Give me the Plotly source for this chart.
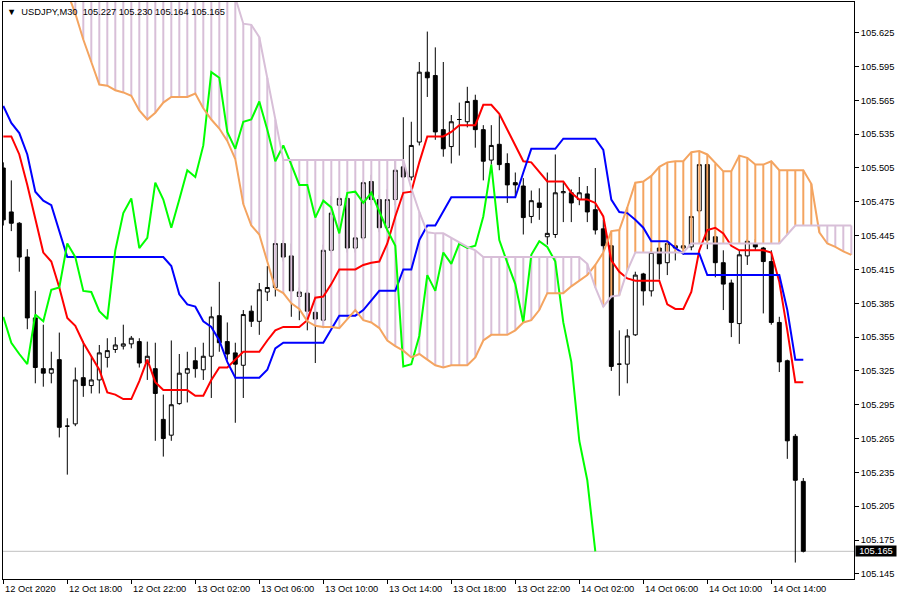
import plotly.graph_objects as go
import pandas as pd

symbol = "USDJPY,M30"
bar_times = pd.date_range("2020-10-12 14:00", periods=101, freq="30min")

opens = [105.505,105.466,105.456,105.426,105.372,105.327,105.323,105.335,105.276,105.278,
         105.319,105.312,105.317,105.337,105.344,105.347,105.349,105.351,105.332,105.327,
         105.282,105.268,105.296,105.323,105.334,105.326,105.338,105.374,105.351,105.341,
         105.330,105.378,105.369,105.395,105.399,105.438,105.427,105.391,105.394,105.377,
         105.370,105.432,105.472,105.478,105.434,105.443,105.493,105.477,105.452,105.477,
         105.506,105.497,105.528,105.590,105.587,105.539,105.524,105.548,105.546,105.565,
         105.539,105.512,105.526,105.509,105.492,105.489,105.462,105.474,105.444,105.446,
         105.483,105.483,105.477,105.482,105.468,105.451,105.436,105.331,105.331,105.357,
         105.411,105.396,105.434,105.421,105.436,105.434,105.435,105.467,105.508,105.444,
         105.421,105.403,105.367,105.427,105.438,105.434,105.422,105.368,105.334,105.267,
         105.227]
highs = [105.510,105.494,105.457,105.433,105.396,105.366,105.342,105.359,105.283,105.328,
         105.351,105.338,105.348,105.354,105.355,105.366,105.356,105.354,105.351,105.350,
         105.304,105.352,105.340,105.342,105.346,105.350,105.382,105.404,105.368,105.350,
         105.379,105.383,105.403,105.418,105.441,105.441,105.438,105.399,105.397,105.392,
         105.437,105.480,105.480,105.479,105.450,105.494,105.499,105.481,105.486,105.512,
         105.550,105.546,105.599,105.626,105.612,105.599,105.552,105.563,105.577,105.570,
         105.543,105.543,105.552,105.518,105.501,105.496,105.485,105.487,105.501,105.517,
         105.493,105.486,105.497,105.489,105.505,105.459,105.441,105.361,105.362,105.413,
         105.412,105.434,105.438,105.439,105.438,105.441,105.477,105.509,105.509,105.450,
         105.432,105.406,105.432,105.442,105.442,105.435,105.432,105.373,105.335,105.269,
         105.230]
lows = [105.454,105.449,105.413,105.362,105.314,105.311,105.314,105.266,105.233,105.276,
        105.302,105.305,105.305,105.328,105.341,105.344,105.345,105.328,105.317,105.263,
        105.249,105.263,105.295,105.297,105.319,105.317,105.301,105.342,105.335,105.279,
        105.301,105.364,105.357,105.387,105.391,105.422,105.373,105.370,105.361,105.332,
        105.363,105.430,105.448,105.430,105.430,105.441,105.472,105.448,105.448,105.472,
        105.477,105.494,105.525,105.568,105.530,105.515,105.509,105.516,105.541,105.523,
        105.494,105.508,105.503,105.474,105.479,105.446,105.456,105.459,105.437,105.443,
        105.457,105.457,105.472,105.457,105.446,105.430,105.325,105.303,105.314,105.356,
        105.383,105.391,105.406,105.410,105.423,105.428,105.432,105.465,105.433,105.408,
        105.379,105.355,105.349,105.419,105.432,105.376,105.366,105.324,105.247,105.155,
        105.164]
closes = [105.459,105.456,105.426,105.372,105.328,105.323,105.327,105.275,105.276,105.317,
          105.312,105.317,105.341,105.343,105.348,105.349,105.354,105.332,105.338,105.305,
          105.265,105.295,105.323,105.327,105.327,105.338,105.373,105.350,105.340,105.331,
          105.375,105.369,105.397,105.399,105.438,105.426,105.396,105.395,105.378,105.371,
          105.432,105.465,105.478,105.434,105.443,105.492,105.477,105.452,105.477,105.503,
          105.497,105.525,105.590,105.585,105.537,105.522,105.546,105.548,105.564,105.539,
          105.511,105.525,105.508,105.490,105.490,105.461,105.476,105.470,105.447,105.483,
          105.484,105.474,105.483,105.466,105.450,105.436,105.329,105.331,105.356,105.410,
          105.396,105.430,105.420,105.438,105.434,105.436,105.462,105.508,105.441,105.421,
          105.402,105.368,105.428,105.440,105.435,105.422,105.368,105.333,105.263,105.228,
          105.165]

tenkan = [105.533,105.533,105.517,105.490,105.460,105.430,105.422,105.399,105.372,105.365,
          105.350,105.338,105.326,105.306,105.304,105.300,105.300,105.316,105.335,105.315,
          105.308,105.308,105.308,105.308,105.303,105.303,105.317,105.328,105.328,105.335,
          105.342,105.342,105.342,105.352,105.361,105.364,105.364,105.364,105.370,105.390,
          105.391,105.402,105.415,105.415,105.415,105.419,105.421,105.422,105.438,105.462,
          105.483,105.484,105.510,105.533,105.533,105.533,105.537,105.543,105.543,105.543,
          105.561,105.561,105.553,105.539,105.526,105.511,105.510,105.502,105.493,105.493,
          105.493,105.483,105.477,105.477,105.474,105.462,105.423,105.413,105.407,105.405,
          105.405,105.405,105.405,105.384,105.380,105.380,105.395,105.432,105.450,105.452,
          105.447,105.436,105.432,105.432,105.432,105.432,105.430,105.404,105.361,105.315,
          105.315]
kijun = [105.560,105.545,105.536,105.517,105.484,105.476,105.472,105.450,105.426,105.426,
         105.426,105.426,105.426,105.426,105.426,105.426,105.426,105.426,105.426,105.426,
         105.426,105.418,105.393,105.384,105.382,105.369,105.364,105.352,105.333,105.319,
         105.319,105.319,105.319,105.326,105.345,105.350,105.350,105.350,105.350,105.350,
         105.350,105.362,105.374,105.374,105.374,105.379,105.387,105.396,105.396,105.396,
         105.415,105.415,105.441,105.454,105.454,105.466,105.479,105.479,105.479,105.479,
         105.479,105.479,105.479,105.479,105.479,105.501,105.522,105.522,105.522,105.522,
         105.531,105.531,105.531,105.531,105.531,105.521,105.477,105.466,105.465,105.459,
         105.452,105.440,105.440,105.440,105.434,105.429,105.429,105.429,105.410,105.410,
         105.410,105.410,105.410,105.410,105.410,105.410,105.410,105.410,105.379,105.335,
         105.335]
span_a = [105.707,105.700,105.694,105.688,105.682,105.677,105.672,105.666,105.661,105.642,
          105.619,105.599,105.579,105.578,105.574,105.572,105.569,105.556,105.548,105.554,
          105.563,105.568,105.568,105.568,105.571,105.558,105.548,105.540,105.529,105.513,
          105.473,105.454,105.446,105.423,105.398,105.394,105.385,105.380,105.369,105.365,
          105.364,105.364,105.363,105.371,105.379,105.370,105.368,105.363,105.352,105.347,
          105.343,105.337,105.340,105.335,105.330,105.328,105.330,105.330,105.330,105.337,
          105.352,105.357,105.357,105.357,105.361,105.368,105.370,105.379,105.394,105.394,
          105.394,105.400,105.405,105.410,105.419,105.430,105.449,105.450,105.470,105.492,
          105.493,105.498,105.506,105.510,105.511,105.511,105.519,105.520,105.517,105.509,
          105.502,105.502,105.516,105.514,105.508,105.508,105.511,105.503,105.503,105.503,
          105.503,105.491,105.448,105.438,105.435,105.431,105.428]
span_b = [105.700]*28 + [105.676,105.656,105.633,105.632,105.621,105.585,105.548] + [105.512]*16 + \
         [105.487,105.466,105.448,105.447,105.447,105.443,105.439,105.435,105.432] + [105.426]*13 + \
         [105.420,105.399,105.382,105.391,105.392,105.414] + [105.430]*7 + [105.438]*12 + \
         [105.446] + [105.454]*8

chikou_shift = 26
y_tick_labels = ["105.145","105.175","105.205","105.235","105.265","105.295","105.325","105.355",
                 "105.385","105.415","105.445","105.475","105.505","105.535","105.565","105.595","105.625"]
tick_times = ["2020-10-12 14:00","2020-10-12 18:00","2020-10-12 22:00","2020-10-13 02:00",
              "2020-10-13 06:00","2020-10-13 10:00","2020-10-13 14:00","2020-10-13 18:00",
              "2020-10-13 22:00","2020-10-14 02:00","2020-10-14 06:00","2020-10-14 10:00",
              "2020-10-14 14:00"]
tick_labels = ["12 Oct 2020","12 Oct 18:00","12 Oct 22:00","13 Oct 02:00","13 Oct 06:00",
               "13 Oct 10:00","13 Oct 14:00","13 Oct 18:00","13 Oct 22:00","14 Oct 02:00",
               "14 Oct 06:00","14 Oct 10:00","14 Oct 14:00"]

FONT = "Liberation Sans, Arial, sans-serif"
SANDY = "#F4A460"
THISTLE = "#D8BFD8"

n = len(closes)
xs = list(range(n))
xs_span = list(range(len(span_a)))
tick_pos = [int(bar_times.get_loc(pd.Timestamp(t))) for t in tick_times]

fig = go.Figure()

fig.add_trace(go.Candlestick(
    x=xs, open=opens, high=highs, low=lows, close=closes,
    increasing=dict(line=dict(color="black", width=1), fillcolor="white"),
    decreasing=dict(line=dict(color="black", width=1), fillcolor="black"),
    whiskerwidth=0, hoverinfo="skip"))

# cloud hatching
up_x, up_y, dn_x, dn_y = [], [], [], []
for k, (a, b) in enumerate(zip(span_a, span_b)):
    if a >= b:
        up_x += [k, k, None]; up_y += [a, b, None]
    else:
        dn_x += [k, k, None]; dn_y += [a, b, None]
fig.add_trace(go.Scatter(x=up_x, y=up_y, mode="lines", line=dict(color=SANDY, width=2), hoverinfo="skip"))
fig.add_trace(go.Scatter(x=dn_x, y=dn_y, mode="lines", line=dict(color=THISTLE, width=2), hoverinfo="skip"))

fig.add_trace(go.Scatter(x=xs, y=tenkan, mode="lines", line=dict(color="#FF0000", width=2), hoverinfo="skip"))
fig.add_trace(go.Scatter(x=xs, y=kijun, mode="lines", line=dict(color="#0000FF", width=2), hoverinfo="skip"))
fig.add_trace(go.Scatter(x=[k - chikou_shift for k in xs][chikou_shift:], y=closes[chikou_shift:],
                         mode="lines", line=dict(color="#00FF00", width=2), hoverinfo="skip"))
fig.add_trace(go.Scatter(x=xs_span, y=span_a, mode="lines", line=dict(color=SANDY, width=2), hoverinfo="skip"))
fig.add_trace(go.Scatter(x=xs_span, y=span_b, mode="lines", line=dict(color=THISTLE, width=2), hoverinfo="skip"))

last = closes[-1]
fig.add_shape(type="line", xref="paper", x0=0, x1=1, yref="y", y0=last, y1=last,
              line=dict(color="#C0C0C0", width=1), layer="below")

annotations = []
for pos, lab in zip(tick_pos, tick_labels):
    annotations.append(dict(x=pos, xref="x", y=0, yref="paper", text=lab, showarrow=False,
                            xanchor="left", yanchor="top", xshift=0, yshift=-3,
                            font=dict(family=FONT, size=9.3, color="black")))
annotations.append(dict(x=0, xref="paper", y=1, yref="paper", xanchor="left", yanchor="top",
                        xshift=2, yshift=-3, showarrow=False,
                        text=f"\u25BC  {symbol}  {opens[-1]:.3f} {highs[-1]:.3f} {lows[-1]:.3f} {closes[-1]:.3f}",
                        font=dict(family=FONT, size=9.3, color="black")))
annotations.append(dict(x=1, xref="paper", y=last, yref="y", xanchor="left", yanchor="middle",
                        xshift=1, showarrow=False, text=f"{last:.3f}", bgcolor="black",
                        width=40, height=10, borderpad=0,
                        font=dict(family=FONT, size=9.3, color="white")))

fig.update_layout(
    width=900, height=600,
    margin=dict(l=3, r=46, t=2, b=21, pad=0),
    paper_bgcolor="white", plot_bgcolor="white",
    showlegend=False,
    hovermode=False,
    annotations=annotations,
    xaxis=dict(range=[-0.0375, 106.3375], rangeslider=dict(visible=False),
               showgrid=False, zeroline=False, showline=True, linecolor="black", linewidth=1,
               mirror=True, ticks="outside", ticklen=4, tickcolor="black",
               tickvals=tick_pos, showticklabels=False),
    yaxis=dict(side="right", range=[105.14043, 105.65223],
               showgrid=False, zeroline=False, showline=True, linecolor="black", linewidth=1,
               mirror=True, ticks="outside", ticklen=4, tickcolor="black",
               tickvals=[float(v) for v in y_tick_labels], ticktext=y_tick_labels,
               tickfont=dict(family=FONT, size=9.3, color="black")),
)

fig.write_html("out.html", config={"displayModeBar": False},
               post_script="document.body.style.margin='0px';document.body.style.overflow='hidden';")
